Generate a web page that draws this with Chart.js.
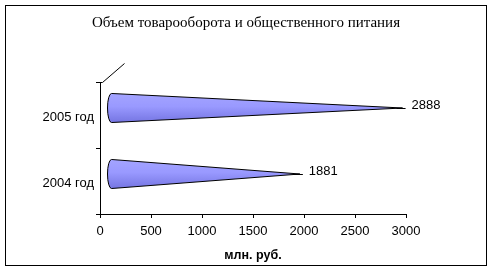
<!DOCTYPE html>
<html>
<head>
<meta charset="utf-8">
<script src="https://cdn.jsdelivr.net/npm/chart.js@4"></script>
<style>
  html, body { margin: 0; padding: 0; background: #fff; }
  #box { position: absolute; left: 5px; top: 5px; width: 480px; height: 259px; border: 1px solid #000; }
</style>
</head>
<body>
<div id="box"><canvas id="myChart" width="480" height="259"></canvas></div>
<script>
// данные с картинки
const kategorii = ['2005 год', '2004 год'];
const znacheniya = [2888, 1881];
const xTicks = [0, 500, 1000, 1500, 2000, 2500, 3000];

// рисуем конусы вместо обычных прямоугольников
const konusy = {
    id: 'konusy',
    afterDatasetsDraw(chart) {
        const ctx = chart.ctx;
        const area = chart.chartArea;
        ctx.save();
        // линия глубины 3D у вершины оси
        ctx.strokeStyle = '#000';
        ctx.lineWidth = 1;
        ctx.beginPath();
        ctx.moveTo(area.left + 0.5, area.top + 0.5);
        ctx.lineTo(area.left + 2.5, area.top + 0.5);
        ctx.lineTo(area.left + 24.5, area.top - 18.5);
        ctx.stroke();

        const meta = chart.getDatasetMeta(0);
        meta.data.forEach((bar, i) => {
            const dx = 8, dy = -7;
            const x0 = bar.base + dx + 3;
            const x1 = bar.x + dx;
            const cy = bar.y + dy;
            const h = bar.height / 2;

            const grad = ctx.createLinearGradient(0, cy - h, 0, cy + h);
            grad.addColorStop(0, '#A4A4FF');
            grad.addColorStop(0.45, '#9999FF');
            grad.addColorStop(1, '#7575E2');

            ctx.beginPath();
            ctx.moveTo(x0, cy - h);
            ctx.lineTo(x1, cy);
            ctx.lineTo(x0, cy + h);
            ctx.ellipse(x0, cy, 4, h, 0, Math.PI / 2, Math.PI * 1.5);
            ctx.closePath();
            ctx.fillStyle = grad;
            ctx.fill();
            ctx.strokeStyle = '#000';
            ctx.stroke();

            // линия к подписи
            ctx.beginPath();
            ctx.moveTo(x1 - 6, cy + 0.5);
            ctx.lineTo(x1 + 3, cy + 0.5);
            ctx.stroke();

            ctx.fillStyle = '#000';
            ctx.font = '13px "Liberation Sans", Arial, sans-serif';
            ctx.textAlign = 'left';
            ctx.textBaseline = 'middle';
            ctx.fillText(String(znacheniya[i]), x1 + 9, cy - 3);
        });
        ctx.restore();
    }
};

const ctx = document.getElementById('myChart').getContext('2d');
new Chart(ctx, {
    type: 'bar',
    data: {
        labels: kategorii,
        datasets: [{
            data: znacheniya,
            backgroundColor: 'rgba(0,0,0,0)',
            borderWidth: 0,
            categoryPercentage: 0.8,
            barPercentage: 0.55
        }]
    },
    options: {
        indexAxis: 'y',
        responsive: false,
        animation: false,
        layout: { padding: 0 },
        plugins: {
            legend: { display: false },
            tooltip: { enabled: false },
            title: {
                display: true,
                text: 'Объем товарооборота и общественного питания',
                color: '#000',
                font: { family: '"Liberation Serif", "Times New Roman", serif', size: 15, weight: 'normal' },
                padding: { top: 8, bottom: 50 }
            }
        },
        scales: {
            x: {
                min: 0,
                max: 3000,
                afterFit(s) { s.height = 51; },
                afterBuildTicks(s) { s.ticks = xTicks.map(v => ({ value: v })); },
                grid: { drawOnChartArea: false, drawTicks: true, tickLength: 4, color: '#000' },
                border: { color: '#000' },
                ticks: {
                    color: '#000',
                    padding: 6,
                    maxRotation: 0,
                    callback: v => String(v),
                    font: { family: '"Liberation Sans", Arial, sans-serif', size: 13 }
                },
                title: {
                    display: true,
                    text: 'млн. руб.',
                    color: '#000',
                    font: { family: '"Liberation Sans", Arial, sans-serif', size: 12.5, weight: 'bold' },
                    padding: { top: 4, bottom: 2 }
                }
            },
            y: {
                afterFit(s) { s.width = 94; },
                grid: { drawOnChartArea: false, drawTicks: true, tickLength: 4, color: '#000' },
                border: { color: '#000' },
                ticks: {
                    color: '#000',
                    padding: 2,
                    labelOffset: 2,
                    font: { family: '"Liberation Sans", Arial, sans-serif', size: 13 }
                }
            },
            // пустая ось справа, чтобы оставить место под подписи
            pusto: {
                axis: 'y',
                position: 'right',
                afterFit(s) { s.width = 80; },
                grid: { display: false },
                border: { display: false },
                ticks: { display: false }
            }
        }
    },
    plugins: [konusy]
});
</script>
</body>
</html>
